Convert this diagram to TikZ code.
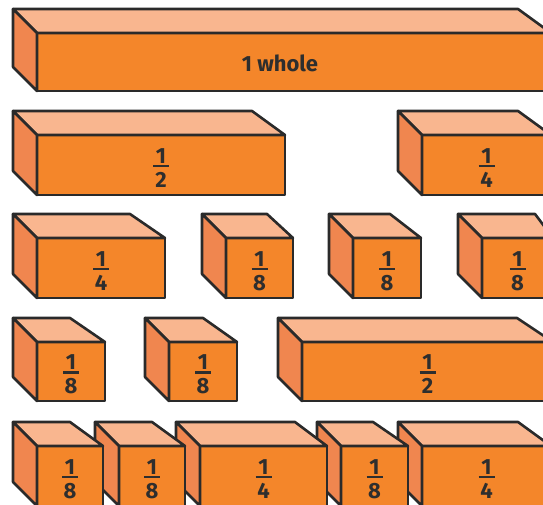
\documentclass[tikz,border=0pt]{standalone}
\usepackage{fontspec}
\setmainfont{Fira Sans}
\definecolor{frontc}{HTML}{F4862A}
\definecolor{topc}{HTML}{F9B68F}
\definecolor{sidec}{HTML}{F0864F}
\definecolor{edgec}{HTML}{2A2A2A}
\definecolor{txtc}{HTML}{2E2E2E}
\newcommand\fr[2]{\vbox{\hbox to 16pt{\hss#1\hss}\kern1.5pt\hrule height 2.2pt\kern5pt\hbox to 16pt{\hss#2\hss}}}
\tikzset{
  frontface/.style={draw=edgec, fill=frontc, line width=2.6pt, line join=round, outer sep=0pt, inner sep=0pt, rectangle},
  topface/.style={draw=edgec, fill=topc, line width=2.6pt, line join=round},
  sideface/.style={draw=edgec, fill=sidec, line width=2.6pt, line join=round},
  lbl/.style={text=txtc, font=\fontsize{22}{24}\selectfont\bfseries, inner sep=0pt}
}
% name, back-left x, back-right x, front-right x, back-top y, height, label
\newcommand\brick[7]{%
  \node[frontface, minimum width={#4-#2-24}, minimum height={#6}, anchor=north west] (#1) at ({#2+24},{#5+24}) {};
  \filldraw[topface] (#2,#5) -- (#3,#5) -- (#1.north east) -- (#1.north west) -- cycle;
  \filldraw[sideface] (#2,#5) -- (#1.north west) -- (#1.south west) -- (#2,{#5+#6}) -- cycle;
  \node[lbl, yshift=-3pt] (#1-t) at (#1.center) {#7};
}
\begin{document}
\begin{tikzpicture}[x=1pt,y=-1pt]
\useasboundingbox (0,0) rectangle (543,505);
\clip (0,0) rectangle (543,505);
% row 1
\brick{whole}{13}{518}{551}{9}{58}{}
\node[lbl, anchor=center] (wholet) at (280,63) {1 whole};
% row 2
\brick{r2a}{13}{252}{285}{111}{60}{\fr{1}{2}}
\brick{r2b}{398}{518}{551}{111}{60}{\fr{1}{4}}
% row 3
\brick{r3a}{13}{130}{165}{214}{60}{\fr{1}{4}}
\brick{r3b}{202}{267}{293}{214}{60}{\fr{1}{8}}
\brick{r3c}{329}{390}{421}{214}{60}{\fr{1}{8}}
\brick{r3d}{458}{535}{553}{214}{60}{\fr{1}{8}}
% row 4
\brick{r4a}{13}{70}{105}{318}{59}{\fr{1}{8}}
\brick{r4b}{145}{203}{237}{318}{59}{\fr{1}{8}}
\brick{r4c}{278}{517}{553}{318}{59}{\fr{1}{2}}
% row 5 (right to left so that left bricks lie on top)
\brick{r5e}{398}{518}{551}{422}{60}{\fr{1}{4}}
\brick{r5d}{317}{373}{408}{422}{60}{\fr{1}{8}}
\brick{r5c}{176}{295}{327}{422}{60}{\fr{1}{4}}
\brick{r5b}{95}{152}{185}{422}{60}{\fr{1}{8}}
\brick{r5a}{13}{70}{103}{422}{60}{\fr{1}{8}}
\end{tikzpicture}
\end{document}
